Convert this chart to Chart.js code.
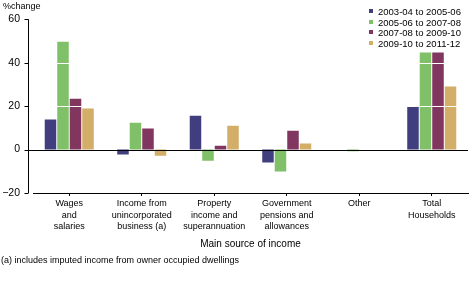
<!DOCTYPE html>
<html>
<head>
<meta charset="utf-8">
<script src="https://cdn.jsdelivr.net/npm/chart.js@4.4.1/dist/chart.umd.min.js"></script>
<style>
  html, body { margin: 0; padding: 0; background: #fff; }
  #wrap { position: relative; width: 472px; height: 283px; font-family: "Liberation Sans", Arial, sans-serif; color: #000; }
  #chart { position: absolute; left: 0; top: 0; }
  #ytitle { position: absolute; left: 3px; top: 1px; font-size: 9px; }
  #legend { position: absolute; left: 369px; top: 7px; font-size: 9.5px; line-height: 10.7px; }
  #legend div { white-space: nowrap; }
  #legend span { display: inline-block; width: 4px; height: 4px; margin-right: 5px; vertical-align: 2px; }
  #note { position: absolute; left: 1px; top: 255px; font-size: 9px; }
</style>
</head>
<body>
<div id="wrap">
  <canvas id="chart" width="472" height="283"></canvas>
  <div id="ytitle">%change</div>
  <div id="legend"></div>
  <div id="note">(a) includes imputed income from owner occupied dwellings</div>
</div>
<script>
// ==========================
// Data
// ==========================
const categories = [
  ["Wages", "and", "salaries"],
  ["Income from", "unincorporated", "business (a)"],
  ["Property", "income and", "superannuation"],
  ["Government", "pensions and", "allowances"],
  ["Other"],
  ["Total", "Households"]
];
const seriesNames = ["2003-04 to 2005-06", "2005-06 to 2007-08", "2007-08 to 2009-10", "2009-10 to 2011-12"];
const period1 = [13.8, -2.3, 15.6, -6.0, 0, 19.9];
const period2 = [49.7, 12.4, -5.1, -10.1, -0.8, 44.7];
const period3 = [23.4, 9.7, 1.8, 8.7, 0, 44.7];
const period4 = [18.9, -2.8, 11.0, 2.8, 0, 29.0];
const yTicks = [-20, 0, 20, 40, 60];

const colors = ["#403e7e", "#80c068", "#80365e", "#d2ae68"];
const seriesValues = [period1, period2, period3, period4];

// legend (html)
const legendElem = document.getElementById("legend");
seriesNames.forEach((name, i) => {
  const row = document.createElement("div");
  row.innerHTML = '<span style="background:' + colors[i] + '"></span>' + name;
  legendElem.appendChild(row);
});

// y axis line, ticks, zero line and white gridlines on top of bars
const axisPlugin = {
  id: "axisPlugin",
  afterDatasetsDraw(chart) {
    const ctx = chart.ctx;
    const y = chart.scales.y;
    const area = chart.chartArea;
    const axisX = area.left - 4.5;
    ctx.save();
    ctx.lineWidth = 1;
    // white lines across bars
    ctx.strokeStyle = "#fff";
    yTicks.forEach(v => {
      if (v === 0 || v === y.min || v === y.max) return;
      const py = Math.round(y.getPixelForValue(v)) + 0.5;
      ctx.beginPath();
      ctx.moveTo(area.left, py);
      ctx.lineTo(area.right, py);
      ctx.stroke();
    });
    ctx.strokeStyle = "#000";
    // y axis line
    ctx.beginPath();
    ctx.moveTo(axisX, y.getPixelForValue(y.max));
    ctx.lineTo(axisX, y.getPixelForValue(y.min));
    ctx.stroke();
    // ticks + zero line
    yTicks.forEach(v => {
      const py = Math.round(y.getPixelForValue(v)) + 0.5;
      ctx.beginPath();
      ctx.moveTo(axisX - 4, py);
      ctx.lineTo(v === 0 ? area.right : axisX, py);
      ctx.stroke();
    });
    ctx.restore();
  }
};

const fontFamily = '"Liberation Sans", Arial, sans-serif';

new Chart(document.getElementById("chart").getContext("2d"), {
  type: "bar",
  data: {
    labels: categories,
    datasets: seriesNames.map((name, i) => ({
      label: name,
      data: seriesValues[i],
      backgroundColor: colors[i],
      borderWidth: 0,
      categoryPercentage: 0.69,
      barPercentage: 0.92
    }))
  },
  options: {
    responsive: false,
    animation: false,
    layout: { padding: { top: 19, right: 4, bottom: 33, left: 0 } },
    plugins: {
      legend: { display: false },
      tooltip: { enabled: false }
    },
    scales: {
      x: {
        grid: { display: true, drawOnChartArea: false, offset: false, tickLength: 3, color: "#000" },
        border: { display: true, color: "#000" },
        ticks: {
          color: "#000", padding: 2, maxRotation: 0, autoSkip: false,
          font: { family: fontFamily, size: 9, lineHeight: 1.28 }
        },
        title: {
          display: true, text: "Main source of income", color: "#000",
          padding: 0, font: { family: fontFamily, size: 10, lineHeight: 1.2 }
        },
        afterFit(scale) { scale.height = 57; }
      },
      y: {
        min: -20, max: 60,
        grid: { display: false, drawTicks: false },
        border: { display: false },
        afterBuildTicks(scale) { scale.ticks = yTicks.map(v => ({ value: v })); },
        ticks: {
          color: "#000", padding: 13,
          font: { family: fontFamily, size: 10.5 },
          callback: v => (v < 0 ? "\u2212" + Math.abs(v) : String(v))
        },
        afterFit(scale) { scale.width = 33; }
      }
    }
  },
  plugins: [axisPlugin]
});
</script>
</body>
</html>
